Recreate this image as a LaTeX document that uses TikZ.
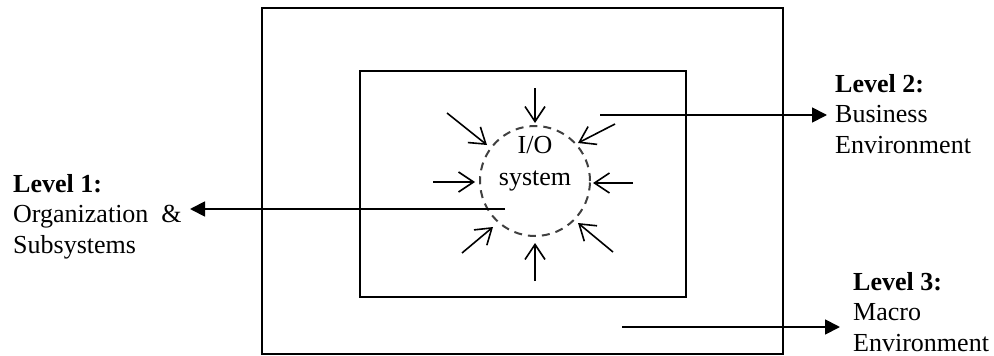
\documentclass[tikz,border=0pt]{standalone}
\usepackage{fontspec}
\setmainfont{Liberation Serif}
\usetikzlibrary{arrows.meta}
\begin{document}
\begin{tikzpicture}[x=1pt,y=-1pt,
  frame/.style={draw=black, line width=2pt, inner sep=0pt, outer sep=0pt},
  label/.style={anchor=base west, align=left, inner sep=0pt,
                font=\fontsize{26}{30.5}\selectfont},
  inarrow/.style={line width=1.6pt, -{Straight Barb[length=15pt,width=20pt,line width=1.6pt]}},
  outarrow/.style={line width=1.8pt, -{Triangle[length=15pt,width=15pt]}},
  ring/.style={circle, draw={rgb,255:red,64;green,64;blue,64}, line width=2pt,
               dash pattern=on 8pt off 6pt, minimum size=110pt, inner sep=0pt}]
\useasboundingbox (0,0) rectangle (994,356);

% nested environments
\node[frame, minimum width=521pt, minimum height=346pt] (outer) at (522.5,181) {};
\node[frame, minimum width=326pt, minimum height=226pt] (inner) at (523,184) {};

% the input/output system
\node[ring] (io) at (535,181) {};
\node[anchor=base, inner sep=0pt, font=\fontsize{26}{30}\selectfont] (iolbl) at (535,153) {I/O};
\node[anchor=base, inner sep=0pt, font=\fontsize{26}{30}\selectfont] (syslbl) at (535,185) {system};

% influences acting on the system
\coordinate (nT) at (535,88);   \coordinate (nTt) at (535,123);
\coordinate (nB) at (535,281);  \coordinate (nBt) at (535,243);
\coordinate (nL) at (433,182);  \coordinate (nLt) at (475,182);
\coordinate (nR) at (633,183);  \coordinate (nRt) at (593,183);
\coordinate (nUL) at (447,113); \coordinate (nULt) at (487,145);
\coordinate (nUR) at (615,124); \coordinate (nURt) at (578,143);
\coordinate (nLL) at (462,253); \coordinate (nLLt) at (493,227);
\coordinate (nLR) at (613,252); \coordinate (nLRt) at (578,223);
\foreach \a in {T,B,L,R,UL,UR,LL,LR}
  \draw[inarrow] (n\a) -- (n\a t);

% level labels (anchored at the baseline of their last line)
\node[label] (lv1) at (13,253) {\textbf{Level 1:}\\Organization\ \ \&\\Subsystems};
\node[label] (lv2) at (835,153) {\textbf{Level 2:}\\Business\\Environment};
\node[label] (lv3) at (853,351) {\textbf{Level 3:}\\Macro\\Environment};

% pointers to the labels
\coordinate (p1s) at (505,209); \coordinate (p1e) at (190,209);
\coordinate (p2s) at (600,115); \coordinate (p2e) at (827,115);
\coordinate (p3s) at (622,327); \coordinate (p3e) at (840,327);
\draw[outarrow] (p1s) -- (p1e);
\draw[outarrow] (p2s) -- (p2e);
\draw[outarrow] (p3s) -- (p3e);
\end{tikzpicture}
\end{document}
